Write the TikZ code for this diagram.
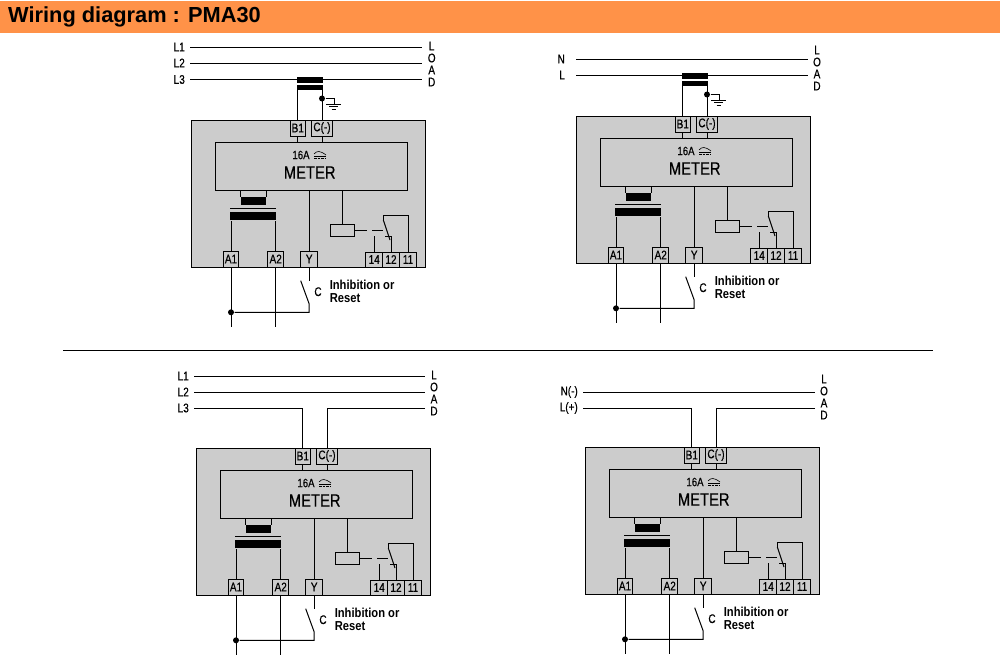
\documentclass[tikz,border=0pt]{standalone}
\usepackage{fontspec}
\setmainfont{Liberation Sans}
\newfontfamily\narrowfont[FakeStretch=0.8,FakeBold=0.5]{Liberation Sans}
\newfontfamily\metrefont[FakeStretch=0.82,FakeBold=0.5]{Liberation Sans}
\newfontfamily\condfont[FakeStretch=0.86]{Liberation Sans}
\definecolor{bandorange}{RGB}{255,146,72}
\definecolor{boxgray}{RGB}{204,204,204}
\tikzset{
  wire/.style={line width=1pt},
  termbox/.style={draw,wire,fill=boxgray,minimum height=16pt,inner sep=0pt,font=\narrowfont\fontsize{12.5}{13}\selectfont},
  barbox/.style={fill=black,inner sep=0pt},
  wirelabel/.style={anchor=east,inner ysep=0pt,inner xsep=5pt,font=\narrowfont\fontsize{12.5}{13}\selectfont},
  loadlabel/.style={align=center,inner sep=0pt,font=\narrowfont\fontsize{12.5}{12}\selectfont},
  joint/.style={circle,fill=black,inner sep=0pt,minimum size=6pt}
}
% one relay unit, origin at the top left corner of the grey case
\newcommand{\meterunit}[3]{
\begin{scope}[shift={(#2,#3)},name prefix=#1-,wire]
\node[draw,wire,fill=boxgray,minimum width=234pt,minimum height=147pt,inner sep=0pt] (case) at (117,73.5) {};
\node[draw,wire,fill=boxgray,minimum width=192pt,minimum height=48pt,inner sep=0pt] (meter) at (120,46) {};
\node[termbox,minimum width=15.5pt] (b1) at (106.8,8) {B1};
\node[termbox,minimum width=21pt] (c) at (131,8) {C(-)};
\node[termbox,minimum width=15.7pt] (a1) at (40,139) {A1};
\node[termbox,minimum width=16pt] (a2) at (84.7,139) {A2};
\node[termbox,minimum width=16.5pt] (y) at (118.2,139) {Y};
\node[termbox,minimum width=17pt,minimum height=15pt] (t14) at (183.2,139.5) {14};
\node[termbox,minimum width=16.6pt,minimum height=15pt] (t12) at (200,139.5) {12};
\node[termbox,minimum width=17.4pt,minimum height=15pt] (t11) at (217,139.5) {11};
\node[inner sep=0pt,font=\narrowfont\fontsize{12}{12}\selectfont] (rate) at (110,35) {16A};
\node[inner sep=0pt,font=\metrefont\fontsize{18}{18}\selectfont] (name) at (118.7,52.5) {METER};
\draw[line width=0.6pt] (123,34) .. controls (126,30.5) and (129,30.5) .. (135,35);
\draw[line width=0.6pt] (123,36) -- (135,36);
\draw[line width=0.6pt,dash pattern=on 2.5pt off 1pt] (123,38) -- (135,38);
\draw (b1.south) -- (meter.north -| b1.south);
\draw (c.south) -- (meter.north -| c.south);
% supply transformer
\node[barbox,minimum width=25.3pt,minimum height=8pt] (upbar) at (62.3,81) {};
\node[barbox,minimum width=46pt,minimum height=8pt] (lowbar) at (62,96) {};
\coordinate (coreleft) at (39,88.3);
\coordinate (coreright) at (85,88.3);
\draw (coreleft) -- (coreright);
\draw (upbar.north west) -- (upbar.north west |- meter.south);
\draw (upbar.north east) -- (upbar.north east |- meter.south);
\draw (a1.north) -- (a1.north |- lowbar.south);
\draw (a2.north) -- (a2.north |- lowbar.south);
\draw (y.north) -- (y.north |- meter.south);
% output relay
\node[draw,wire,minimum width=24.4pt,minimum height=12pt,inner sep=0pt] (coil) at (151.5,110.3) {};
\draw (coil.north) -- (coil.north |- meter.south);
\coordinate (dasha) at (175.7,110.3);
\coordinate (dashb) at (181,110.3);
\coordinate (hinge) at (192.3,100);
\coordinate (tip) at (199,120);
\coordinate (peak) at (192.3,95);
\coordinate (nc) at (194,116);
\draw (coil.east) -- (dasha);
\draw (dashb) -- (192.3,110.3);
\draw (hinge) -- (peak) -| (t11.north);
\draw (hinge) -- (tip);
\draw (t14.north) -- (t14.north |- nc);
\draw (nc) -| (t12.north);
% inhibition contact
\coordinate (swtop) at (118.2,160.7);
\coordinate (swleft) at (109.7,160.7);
\coordinate (swlow) at (118.2,184);
\coordinate (busy) at (118.2,192.3);
\node[joint] (busdot) at (a1.south |- busy) {};
\coordinate (enda) at (40,206.7);
\coordinate (endb) at (84.7,206.7);
\draw (y.south) -- (swtop);
\draw (swleft) -- (swlow) -- (busy) -- (busdot);
\draw (a1.south) -- (enda);
\draw (a2.south) -- (endb);
\node[inner sep=0pt,font=\narrowfont\fontsize{12.5}{13}\selectfont] (clabel) at (127,171.7) {C};
\node[anchor=north west,align=left,inner sep=0pt,font=\condfont\bfseries\fontsize{13}{13.5}\selectfont] (inhib) at (138.3,159.3) {Inhibition or\\Reset};
\end{scope}
}
% current transformer with earth, same origin as the unit
\newcommand{\meterct}[3]{
\begin{scope}[shift={(#2,#3)},wire]
\node[barbox,minimum width=26pt,minimum height=6pt] (#1-ctup) at (118.8,-40) {};
\node[barbox,minimum width=26pt,minimum height=4.7pt] (#1-ctlow) at (118.8,-32.4) {};
\node[joint] (#1-dot) at (131,-21.5) {};
\coordinate (#1-earth) at (143,-16);
\draw (#1-b1.north) -- (#1-b1.north |- #1-ctlow.south);
\draw (#1-c.north) -- (#1-c.north |- #1-ctlow.south);
\draw (#1-dot) -| (#1-earth);
\draw ([xshift=-8pt]#1-earth) -- ([xshift=7pt]#1-earth);
\draw[line width=0.8pt] ([xshift=-5pt,yshift=-2.6pt]#1-earth) -- ([xshift=4pt,yshift=-2.6pt]#1-earth);
\draw[line width=0.8pt] ([xshift=-2.5pt,yshift=-5.4pt]#1-earth) -- ([xshift=2pt,yshift=-5.4pt]#1-earth);
\end{scope}
}
\begin{document}
\begin{tikzpicture}[x=1pt,y=-1pt]
\useasboundingbox (0,0) rectangle (1000,670);

\fill[bandorange] (0,1) rectangle (1000,33);
\node[anchor=west,inner sep=0pt,font=\bfseries\fontsize{21.8}{24}\selectfont] (title) at (8,17) {Wiring diagram : PMA30};

\meterunit{ua}{191}{120}
\meterunit{ub}{576}{116}
\meterunit{uc}{196}{448}
\meterunit{ud}{585}{447}

% three phase, with transformer
\node[wirelabel] (l1a) at (190,47) {L1};
\node[wirelabel] (l2a) at (190,63) {L2};
\node[wirelabel] (l3a) at (190,79.5) {L3};
\coordinate (e1a) at (422,47);
\coordinate (e2a) at (422,63);
\coordinate (e3a) at (422,79.5);
\node[loadlabel] (loada) at (431.7,64) {L\\O\\A\\D};
\draw[wire] (l1a.east) -- (e1a);
\draw[wire] (l2a.east) -- (e2a);
\draw[wire] (l3a.east) -- (e3a);
\meterct{ua}{191}{120}

% single phase, with transformer
\node[wirelabel,inner xsep=11pt] (na) at (576,59) {N};
\node[wirelabel,inner xsep=11pt] (lb) at (576,75) {L};
\coordinate (enb) at (808,59);
\coordinate (elb) at (808,75);
\node[loadlabel] (loadb) at (817,68) {L\\O\\A\\D};
\draw[wire] (na.east) -- (enb);
\draw[wire] (lb.east) -- (elb);
\meterct{ub}{576}{116}

\coordinate (sepa) at (63,350);
\coordinate (sepb) at (933,350);
\draw[wire] (sepa) -- (sepb);

% three phase, direct
\node[wirelabel] (l1c) at (194,376) {L1};
\node[wirelabel] (l2c) at (194,392) {L2};
\node[wirelabel] (l3c) at (194,408) {L3};
\coordinate (e1c) at (425,376);
\coordinate (e2c) at (425,392);
\coordinate (e3c) at (425,408);
\node[loadlabel] (loadc) at (434,393) {L\\O\\A\\D};
\draw[wire] (l1c.east) -- (e1c);
\draw[wire] (l2c.east) -- (e2c);
\draw[wire] (l3c.east) -| (uc-b1.north);
\draw[wire] (e3c) -| (uc-c.north);

% dc, direct
\node[wirelabel] (nd) at (583,392) {N(-)};
\node[wirelabel] (ld) at (583,408) {L(+)};
\coordinate (end) at (815,392);
\coordinate (eld) at (815,408);
\node[loadlabel] (loadd) at (824,397) {L\\O\\A\\D};
\draw[wire] (nd.east) -- (end);
\draw[wire] (ld.east) -| (ud-b1.north);
\draw[wire] (eld) -| (ud-c.north);
\end{tikzpicture}
\end{document}
